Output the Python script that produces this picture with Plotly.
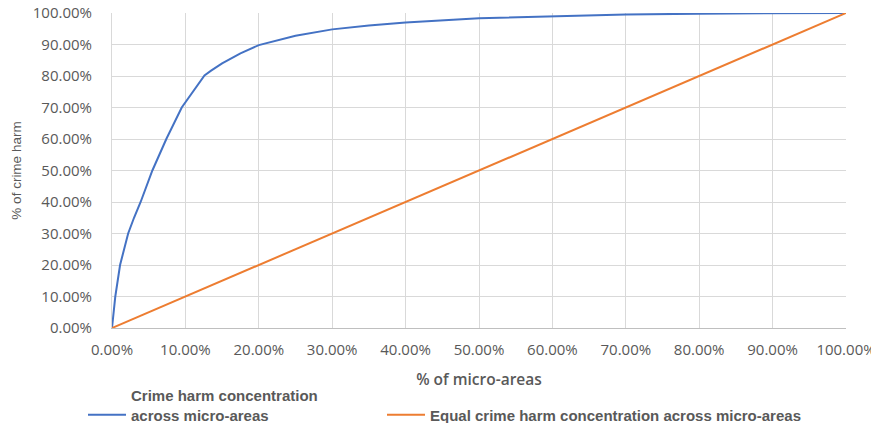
import plotly.graph_objects as go

# Data (percent values)
micro_areas_pct = [0.0, 0.45, 1.1, 2.2, 3.0, 3.9, 5.5, 7.4, 9.5, 12.6, 13.5, 15.0, 17.5,
                   20.0, 25.0, 30.0, 35.0, 40.0, 50.0, 60.0, 70.0, 80.0, 90.0, 100.0]
crime_harm_pct = [0.0, 10.0, 20.0, 30.0, 35.0, 40.0, 50.0, 60.0, 70.0, 80.2, 81.7, 84.0, 87.2,
                  89.8, 92.8, 94.8, 96.0, 97.0, 98.3, 99.0, 99.5, 99.8, 99.95, 100.0]
equal_x = [0.0, 100.0]
equal_y = [0.0, 100.0]

tick_vals = [0, 10, 20, 30, 40, 50, 60, 70, 80, 90, 100]
tick_text = [f"{v:.2f}%" for v in tick_vals]

series1_name = "Crime harm concentration<br>across micro-areas"
series2_name = " <br>Equal crime harm concentration across micro-areas"

fig = go.Figure()
fig.add_trace(go.Scatter(x=micro_areas_pct, y=crime_harm_pct, mode="lines",
                         name=series1_name, legendwidth=246,
                         line=dict(color="#4472C4", width=2)))
fig.add_trace(go.Scatter(x=equal_x, y=equal_y, mode="lines",
                         name=series2_name,
                         line=dict(color="#ED7D31", width=2)))

tick_font = dict(family="Open Sans, DejaVu Sans, sans-serif", size=15, color="#595959")

# page body has an 8px default margin, so the figure is sized to fit the 879x423 window
fig.update_layout(
    width=871, height=415,
    margin=dict(l=104, r=33, t=5, b=95, autoexpand=False),
    plot_bgcolor="white", paper_bgcolor="white",
    showlegend=True,
    legend=dict(
        orientation="h", x=-0.0395, xanchor="left", y=-0.162, yanchor="top",
        font=dict(family="Liberation Sans, Arial, sans-serif", size=15,
                  color="#595959", weight="bold"),
        itemwidth=38, valign="bottom",
        bgcolor="rgba(0,0,0,0)",
    ),
    xaxis=dict(
        range=[0, 100], tickvals=tick_vals, ticktext=tick_text,
        showgrid=True, gridcolor="#D9D9D9", gridwidth=1,
        showline=True, linecolor="#BFBFBF", linewidth=1,
        zeroline=False, tickfont=tick_font, ticklabelstandoff=8,
        ticklabeloverflow="allow", automargin=False,
        title=dict(text="% of micro-areas", standoff=16,
                   font=dict(family="Open Sans, DejaVu Sans, sans-serif", size=15.5,
                             color="#595959", weight=600)),
        fixedrange=True,
    ),
    yaxis=dict(
        range=[0, 100], tickvals=tick_vals, ticktext=tick_text,
        showgrid=True, gridcolor="#D9D9D9", gridwidth=1,
        showline=True, linecolor="#D9D9D9", linewidth=1,
        zeroline=False, tickfont=tick_font, ticklabelstandoff=16,
        ticklabeloverflow="allow", automargin=False,
        title=dict(text="% of crime harm", standoff=8,
                   font=dict(family="Liberation Sans, Arial, sans-serif", size=13.5,
                             color="#595959")),
        fixedrange=True,
    ),
)

fig.write_html("out.html")
